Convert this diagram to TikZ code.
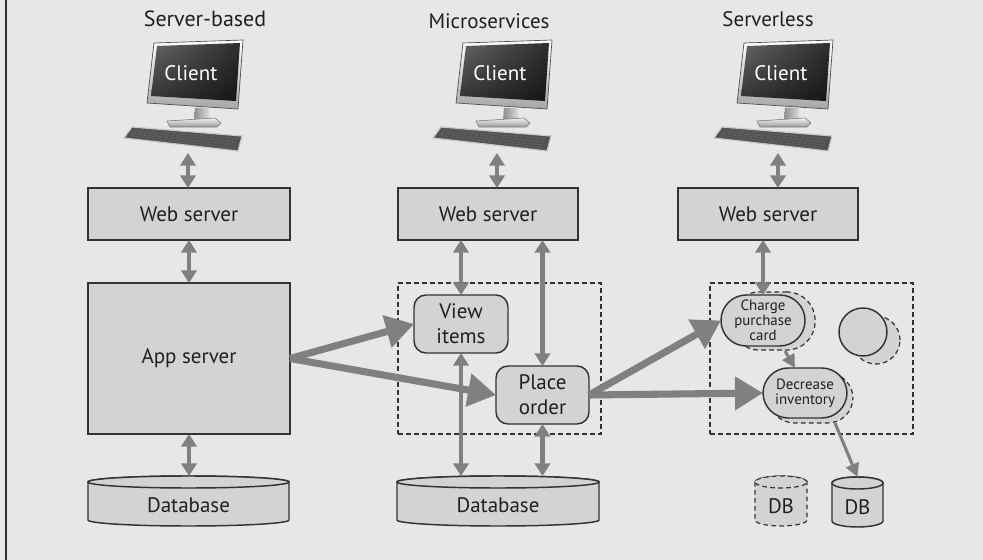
\documentclass[tikz,border=0pt]{standalone}
\usepackage{fontspec}
\setmainfont{PT Sans}
\usetikzlibrary{arrows.meta,calc,shadings}

\definecolor{bggray}{HTML}{E6E7E8}
\definecolor{boxgray}{HTML}{D1D3D4}
\definecolor{arrowgray}{HTML}{808080}
\definecolor{inkgray}{HTML}{333333}
\definecolor{textgray}{HTML}{231F20}
\definecolor{kbdark}{HTML}{505050}

\pgfdeclarelayer{back}
\pgfsetlayers{back,main}

% cylinder body behind a named node: #1 node, #2 half width, #3 style
\newcommand{\cylbody}[3]{%
  \begin{pgfonlayer}{back}
    \path[#3] ($(#1.north west)+(0,6)$) -- ($(#1.south west)+(0,-6)$)
      arc[start angle=180,end angle=360,x radius=#2,y radius=4.5pt]
      -- ($(#1.north east)+(0,6)$)
      arc[start angle=0,end angle=180,x radius=#2,y radius=4.5pt] -- cycle;
    \path[#3] ($(#1.north)+(0,6)$) ellipse[x radius=#2,y radius=4.5pt];
  \end{pgfonlayer}}

\tikzset{
  monitor/.pic={
    % bezel and screen
    \shade[top color=white, bottom color=black!35, draw=black!70, line width=0.5pt]
      (-34,43) -- (55,40) -- (50,109) -- (-41,103) -- cycle;
    \shade[upper left=black!60, upper right=black!82, lower left=black!80, lower right=black!92]
      (-31,46) -- (52,43) -- (48,101) -- (-37,96) -- cycle;
    % stand
    \shade[left color=black!45, right color=black!12] (7,108) -- (21,108) -- (22,121) -- (6,121) -- cycle;
    \shade[top color=black!5, bottom color=black!40, draw=black!55, line width=0.4pt]
      (-21,121) -- (27,118) -- (33,123) -- (29,127) -- (-18,127) -- cycle;
    % keyboard
    \fill[kbdark, draw=black!22, line width=0.9pt]
      (-56,127) -- (54,136) -- (50,151) -- (-64,138) -- cycle;
    \foreach \t in {0.2,0.4,0.6,0.8}
      \draw[black!64, line width=1.3pt, dash pattern=on 3.2pt off 0.9pt]
        ($(-56,127)!\t!(-64,138)+(4,0)$) -- ($(54,136)!\t!(50,151)+(-4,0)$);
    \node[text=white] (-label) at (3,73) {Client};
    \coordinate (-kb) at (0,153);
  },
  box/.style={draw=inkgray, line width=1.1pt, fill=boxgray, align=center},
  roundbox/.style={box, rounded corners=9pt},
  pill/.style={box, rounded corners=19pt, font=\fontsize{11.2pt}{11.3pt}\selectfont},
  ghost/.style={draw=inkgray, line width=0.9pt, dash pattern=on 3.5pt off 2.5pt, fill=boxgray},
  dashframe/.style={draw=inkgray, line width=0.9pt, dash pattern=on 3.5pt off 2.5pt},
  cylnode/.style={align=center},
  thinarrow/.style={draw=arrowgray, line width=3.3pt,
    {Triangle[width=11.5pt,length=9.5pt]}-{Triangle[width=11.5pt,length=9.5pt]}},
  onearrow/.style={draw=arrowgray, line width=2.3pt, -{Triangle[width=10pt,length=10pt]}},
  thickarrow/.style={draw=arrowgray, line width=5.3pt, -{Triangle[width=24pt,length=21pt]}},
}

\begin{document}
\begin{tikzpicture}[x=0.75pt,y=-0.75pt,
  font=\fontsize{15.75pt}{18.75pt}\selectfont, text=textgray,
  every node/.style={inner sep=0pt, outer sep=0pt}]

\useasboundingbox (0,0) rectangle (983,560);
\begin{pgfonlayer}{back}
  \fill[bggray] (0,0) rectangle (983,560);
  \draw[inkgray, line width=1.2pt] (6,-2) -- (6,562);
\end{pgfonlayer}

% column titles
\node[anchor=base, font=\fontsize{16.5pt}{19pt}\selectfont] (t1) at (205,27) {Server-based};
\node[anchor=base] (t2) at (489,29) {Microservices};
\node[anchor=base] (t3) at (768,27) {Serverless};

% clients
\pic (c1) at (188,0) {monitor};
\pic (c2) at (497,0) {monitor};
\pic (c3) at (778,0) {monitor};

% web servers
\node[box, minimum width=151.5pt, minimum height=39pt] (lweb) at (189,214) {Web server};
\node[box, minimum width=135pt, minimum height=39pt] (mweb) at (488,214) {Web server};
\node[box, minimum width=135pt, minimum height=39pt] (rweb) at (768,214) {Web server};

% server-based
\node[box, minimum width=151.5pt, minimum height=113.25pt] (lapp) at (189,358.5) {App server};
\node[cylnode, minimum width=150.75pt, minimum height=37.5pt] (ldb) at (188.5,501)
  {\raisebox{-3.5pt}[\height][\depth]{Database}};
\cylbody{ldb}{75.375pt}{fill=boxgray, draw=inkgray, line width=1.1pt}

% microservices
\node[dashframe, minimum width=152.25pt, minimum height=113.25pt] (mframe) at (499.5,358.5) {};
\node[roundbox, minimum width=70.5pt, minimum height=43.5pt] (view) at (461,324) {View\\items};
\node[roundbox, minimum width=69.75pt, minimum height=43.5pt] (order) at (542.5,395) {Place\\order};
\node[cylnode, minimum width=151.5pt, minimum height=37.5pt] (mdb) at (498,501)
  {\raisebox{-3.5pt}[\height][\depth]{Database}};
\cylbody{mdb}{75.75pt}{fill=boxgray, draw=inkgray, line width=1.1pt}

% serverless
\node[dashframe, minimum width=152.25pt, minimum height=113.25pt] (rframe) at (811.5,358.5) {};
\node[ghost, rounded corners=21pt, minimum width=63pt, minimum height=43.5pt] (chargeghost) at (773,321) {};
\node[pill, minimum width=63pt, minimum height=38.25pt] (charge) at (763,320.5) {Charge\\purchase\\card};
\node[ghost, circle, minimum size=36pt] (fnghost) at (876,340) {};
\node[box, circle, minimum size=36pt] (fn) at (863,332) {};
\node[ghost, rounded corners=19pt, minimum width=63pt, minimum height=37.5pt] (decghost) at (811,398) {};
\node[pill, minimum width=63pt, minimum height=37.5pt] (dec) at (805,393) {Decrease\\inventory};
\node[cylnode, minimum width=39pt, minimum height=37.5pt] (gdb) at (781,501)
  {\raisebox{-3.5pt}[\height][\depth]{DB}};
\cylbody{gdb}{19.5pt}{fill=boxgray, draw=inkgray, line width=0.9pt, dash pattern=on 3.5pt off 2.5pt}
\node[cylnode, minimum width=38.25pt, minimum height=37.5pt] (sdb) at (857.5,502)
  {\raisebox{-3.5pt}[\height][\depth]{DB}};
\cylbody{sdb}{19.125pt}{fill=boxgray, draw=inkgray, line width=1.1pt}

% client links
\draw[thinarrow] (c1-kb) -- (c1-kb |- lweb.north);
\draw[thinarrow] (c2-kb) -- (c2-kb |- mweb.north);
\draw[thinarrow] (c3-kb) -- (c3-kb |- rweb.north);

% server-based links
\draw[thinarrow] (lweb.south) -- (lapp.north);
\draw[thinarrow] (lapp.south) -- (lapp.south |- ldb.north);

% microservices links
\draw[thinarrow] (mweb.south -| view.north) -- (view.north);
\draw[thinarrow] (mweb.south -| order.north) -- (order.north);
\draw[thinarrow] (view.south) -- (view.south |- mdb.north);
\draw[thinarrow] (order.south) -- (order.south |- mdb.north);

% serverless links
\draw[thinarrow] (rweb.south -| charge.north) -- (charge.north);
\draw[onearrow] ($(charge.south)+(22,5)$) -- ($(dec.north)+(-10,0)$);
\draw[onearrow] ($(dec.south east)+(-12,5)$) -- (sdb.north);

% migration arrows
\draw[thickarrow] (lapp.east) -- (view.west);
\draw[thickarrow] (lapp.east) -- (order.west);
\draw[thickarrow] (order.east) -- (charge.west);
\draw[thickarrow] (order.east) -- (dec.west);

\end{tikzpicture}
\end{document}
